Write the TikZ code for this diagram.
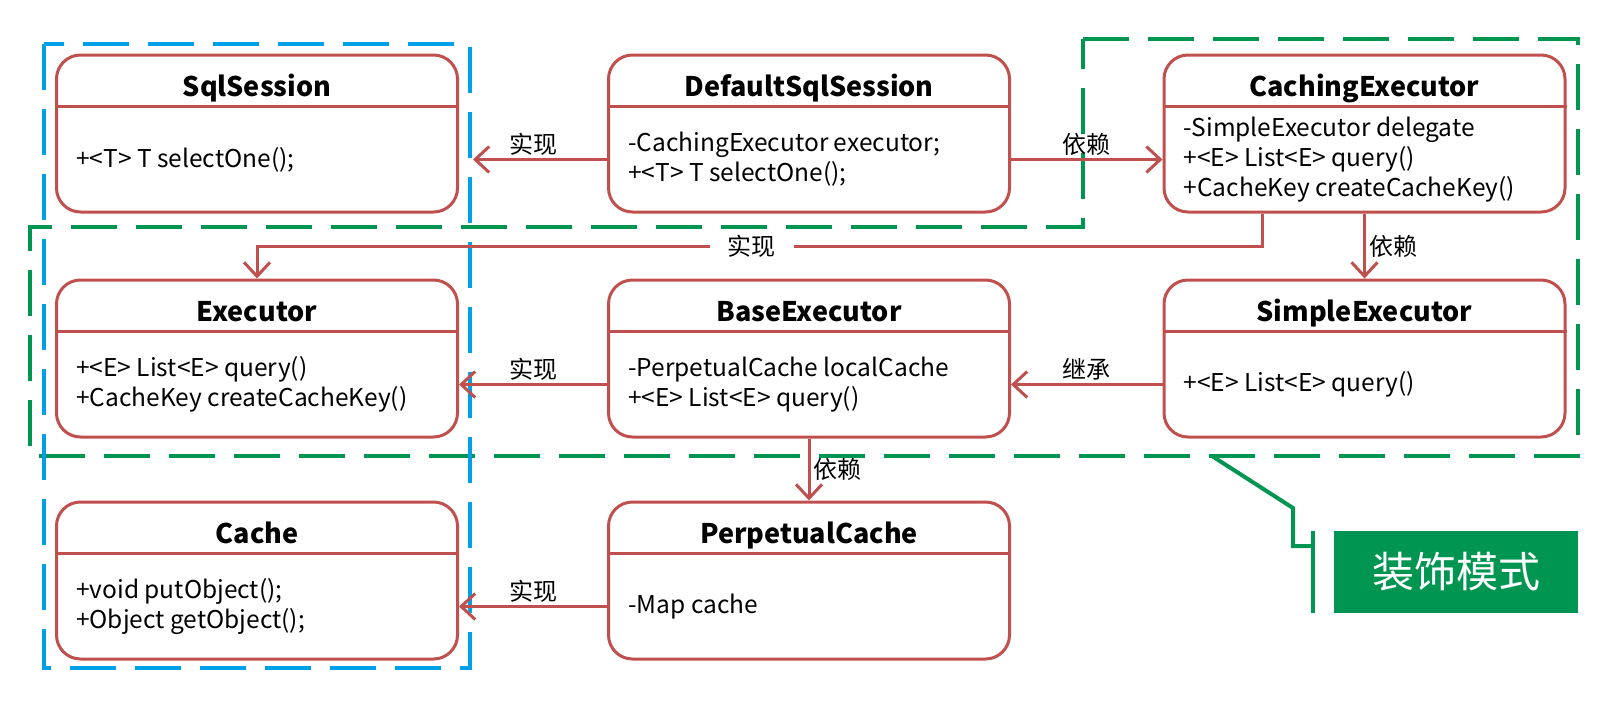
\documentclass[tikz,border=0pt]{standalone}
\usepackage{fontspec}
\setmainfont{Noto Sans CJK SC}
\usetikzlibrary{arrows.meta, positioning, calc}
\definecolor{umlred}{RGB}{192,80,77}
\definecolor{zoneblue}{RGB}{0,160,233}
\definecolor{zonegreen}{RGB}{0,150,82}
\tikzset{
  cls/.style={draw=umlred, line width=3pt, rounded corners=24pt, minimum width=401pt, minimum height=157pt, inner sep=0pt},
  clsline/.style={draw=umlred, line width=3pt},
  clstitle/.style={anchor=base, inner sep=0pt, font=\fontsize{27}{32}\selectfont\bfseries},
  clsbody/.style={anchor=west, align=left, inner sep=0pt, font=\fontsize{24.5}{30}\selectfont},
  rel/.style={-{Straight Barb[length=14pt,width=26pt]}, draw=umlred, line width=3pt},
  lbl/.style={font=\fontsize{24}{28}\selectfont, text=black, inner sep=3pt},
  zone/.style={line width=4.5pt, dash pattern=on 46pt off 19pt},
  callout/.style={draw=zonegreen, line width=4pt},
  tag/.style={fill=zonegreen, text=white, minimum width=244pt, minimum height=82pt, inner sep=0pt, font=\fontsize{42}{46}\selectfont}
}
\newcommand{\umlclass}[4]{%
  \node[cls] (#1) at (#2) {};
  \node[clstitle] (#1-t) at ([yshift=-43pt]#1.north) {#3};
  \draw[clsline] ([yshift=-53pt]#1.north west) -- ([yshift=-53pt]#1.north east);
  \node[clsbody] (#1-b) at ([xshift=21pt,yshift=-106pt]#1.north west) {#4};
}

\begin{document}
\begin{tikzpicture}[x=1pt, y=-1pt]
  \useasboundingbox (0,0) rectangle (1620,723);

  \draw[zone, draw=zonegreen] (1083,39) -- (1578,39) -- (1578,456) -- (30,456) -- (30,227) -- (1083,227) -- cycle;
  \draw[zone, draw=zoneblue] (44,44) rectangle (470,668);

  \umlclass{sql}{257,133.5}{SqlSession}{+<T> T selectOne();}
  \umlclass{dss}{809,133.5}{DefaultSqlSession}{-CachingExecutor executor;\\+<T> T selectOne();}
  \umlclass{ce}{1364.5,133.5}{CachingExecutor}{-SimpleExecutor delegate\\+<E> List<E> query()\\+CacheKey createCacheKey()}
  \umlclass{exe}{257,358.5}{Executor}{+<E> List<E> query()\\+CacheKey createCacheKey()}
  \umlclass{be}{809,358.5}{BaseExecutor}{-PerpetualCache localCache\\+<E> List<E> query()}
  \umlclass{se}{1364.5,358.5}{SimpleExecutor}{+<E> List<E> query()}
  \umlclass{cache}{257,580.5}{Cache}{+void putObject();\\+Object getObject();}
  \umlclass{pc}{809,580.5}{PerpetualCache}{-Map cache}

  \path
    (dss.west |- dss-b) edge[rel, shorten >=14pt] node[lbl, above] {实现} (sql.east |- dss-b)
    (dss.east |- dss-b) edge[rel] node[lbl, above] {依赖} (ce.west |- dss-b)
    (ce.south) edge[rel] node[lbl, right] {依赖} (se.north)
    (be.west |- be-b) edge[rel] node[lbl, above] {实现} (exe.east |- be-b)
    (se.west |- be-b) edge[rel] node[lbl, above] {继承} (be.east |- be-b)
    (be.south) edge[rel] node[lbl, right] {依赖} (pc.north)
    (pc.west |- pc-b) edge[rel] node[lbl, above] {实现} (cache.east |- pc-b)
  ;
  \draw[rel] ([xshift=-102pt]ce.south) |- node[lbl, fill=white, inner xsep=18pt, pos=0.754] {实现} ([yshift=32pt]exe.north) -- (exe.north);

  \node[tag] (deco) at (1456,572) {装饰模式};
  \coordinate (grp) at (1212,456);
  \draw[callout] (grp) -- ++(81,52) -- ++(0,38) -- ([xshift=-21pt,yshift=26pt]deco.west);
  \draw[callout] ([xshift=-21pt]deco.north west) -- ([xshift=-21pt]deco.south west);
\end{tikzpicture}
\end{document}
